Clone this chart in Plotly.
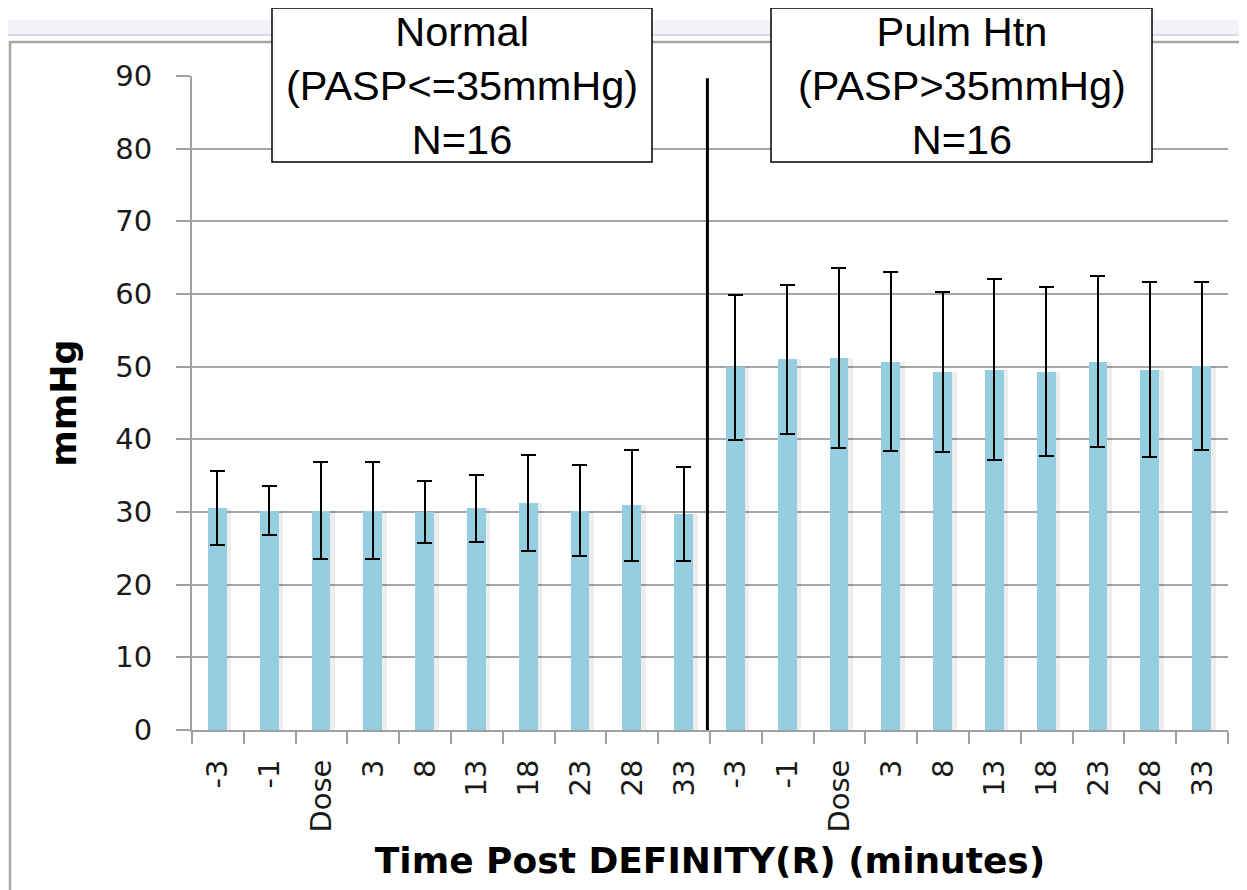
import plotly.graph_objects as go

# ---- data ----
tick_labels = ["-3", "-1", "Dose", "3", "8", "13", "18", "23", "28", "33",
               "-3", "-1", "Dose", "3", "8", "13", "18", "23", "28", "33"]
normal_mean = [30.5, 30.2, 30.2, 30.2, 30.0, 30.5, 31.3, 30.2, 30.9, 29.7]
normal_sd = [5.1, 3.4, 6.7, 6.7, 4.2, 4.6, 6.6, 6.2, 7.7, 6.5]
htn_mean = [49.9, 51.0, 51.2, 50.7, 49.3, 49.6, 49.3, 50.7, 49.6, 50.1]
htn_sd = [10.0, 10.2, 12.4, 12.3, 11.0, 12.4, 11.6, 11.8, 12.0, 11.6]
y_ticks = [0, 10, 20, 30, 40, 50, 60, 70, 80, 90]
group_labels = ["Normal<br>(PASP<=35mmHg)<br>N=16", "Pulm Htn<br>(PASP>35mmHg)<br>N=16"]

means = normal_mean + htn_mean
sds = normal_sd + htn_sd
xs = list(range(len(means)))

BAR = "#96cee1"
FONT = "'DejaVu Sans', Verdana, sans-serif"

# page body has an 8px margin: work in reference pixels minus 8
OFF = 8
W, H = 1247 - OFF, 890 - OFF
L, R, T, B = 192 - OFF, 1228 - OFF, 76 - OFF, 730 - OFF

def px(xp):
    return (xp - OFF - L) / (R - L)

def py(yp):
    return (B - (yp - OFF)) / (B - T)

fig = go.Figure()
# soft shadow behind bars
fig.add_trace(go.Bar(x=xs, y=means, width=0.34, offset=-0.08,
                     marker=dict(color="rgba(0,0,0,0.07)", line=dict(width=0)),
                     hoverinfo="skip", showlegend=False))
fig.add_trace(go.Bar(x=xs, y=means, width=0.36, offset=-0.19,
                     marker=dict(color=BAR, line=dict(width=0)),
                     error_y=dict(type="data", array=sds, visible=True,
                                  color="#000000", thickness=2, width=7.5),
                     showlegend=False))

shapes = []
# slide header band and chart outer frame
shapes.append(dict(type="rect", xref="paper", yref="paper", x0=px(0), x1=px(1260),
                   y0=py(35), y1=py(20), fillcolor="#f3f2f8", line=dict(width=0), layer="below"))
shapes.append(dict(type="line", xref="paper", yref="paper", x0=px(0), x1=px(1260),
                   y0=py(35), y1=py(35), line=dict(color="#d3dbe6", width=2), layer="below"))
shapes.append(dict(type="rect", xref="paper", yref="paper", x0=px(10), x1=px(1262),
                   y0=py(900), y1=py(42), fillcolor="rgba(0,0,0,0)",
                   line=dict(color="#a6a6a6", width=2.5), layer="below"))
# divider between groups
shapes.append(dict(type="line", xref="x", yref="y", x0=9.45, x1=9.45, y0=0, y1=89.7,
                   line=dict(color="#000000", width=3)))
# group label boxes
shapes.append(dict(type="rect", xref="paper", yref="paper", x0=px(272), x1=px(652),
                   y0=py(162), y1=py(8), fillcolor="#ffffff", line=dict(color="#000000", width=1.5)))
shapes.append(dict(type="rect", xref="paper", yref="paper", x0=px(771), x1=px(1152),
                   y0=py(162), y1=py(8), fillcolor="#ffffff", line=dict(color="#000000", width=1.5)))

annotations = [
    dict(text=group_labels[0], xref="paper", yref="paper", x=px(462), y=py(86),
         showarrow=False, font=dict(family="Liberation Sans, Arial", size=41.5, color="#000000"),
         xanchor="center", yanchor="middle"),
    dict(text=group_labels[1], xref="paper", yref="paper", x=px(961.5), y=py(86),
         showarrow=False, font=dict(family="Liberation Sans, Arial", size=41.5, color="#000000"),
         xanchor="center", yanchor="middle"),
]

fig.update_layout(
    width=W, height=H,
    margin=dict(l=L, r=W - R, t=T, b=H - B, pad=0),
    paper_bgcolor="#ffffff", plot_bgcolor="#ffffff",
    barmode="overlay", bargap=0,
    shapes=shapes, annotations=annotations,
    font=dict(family=FONT, color="#1a1a1a"),
    xaxis=dict(range=[-0.5, 19.5], tickmode="array", tickvals=xs, ticktext=tick_labels,
               tickangle=-90, ticks="", showgrid=False, zeroline=False,
               showline=True, linecolor="#a0a0a0", linewidth=2,
               tickfont=dict(family=FONT, size=29, color="#1a1a1a"),
               ticklabelstandoff=16,
               minor=dict(tick0=-0.5, dtick=1, ticks="outside", ticklen=12,
                          tickcolor="#a0a0a0", tickwidth=2, showgrid=False),
               title=dict(text="<b>Time Post DEFINITY(R) (minutes)</b>",
                          font=dict(family=FONT, size=36, color="#000000"), standoff=16),
               fixedrange=True),
    yaxis=dict(range=[0, 90], tickmode="array", tickvals=y_ticks,
               showgrid=True, gridcolor="#a6a6a6", gridwidth=1.5, zeroline=False,
               showline=True, linecolor="#a0a0a0", linewidth=2,
               ticks="outside", ticklen=14, tickcolor="#a0a0a0", tickwidth=2,
               ticklabelstandoff=18,
               tickfont=dict(family=FONT, size=29, color="#1a1a1a"),
               title=dict(text="<b>mmHg</b>", font=dict(family=FONT, size=35, color="#000000"),
                          standoff=28),
               fixedrange=True),
)

fig.write_html("out.html")
